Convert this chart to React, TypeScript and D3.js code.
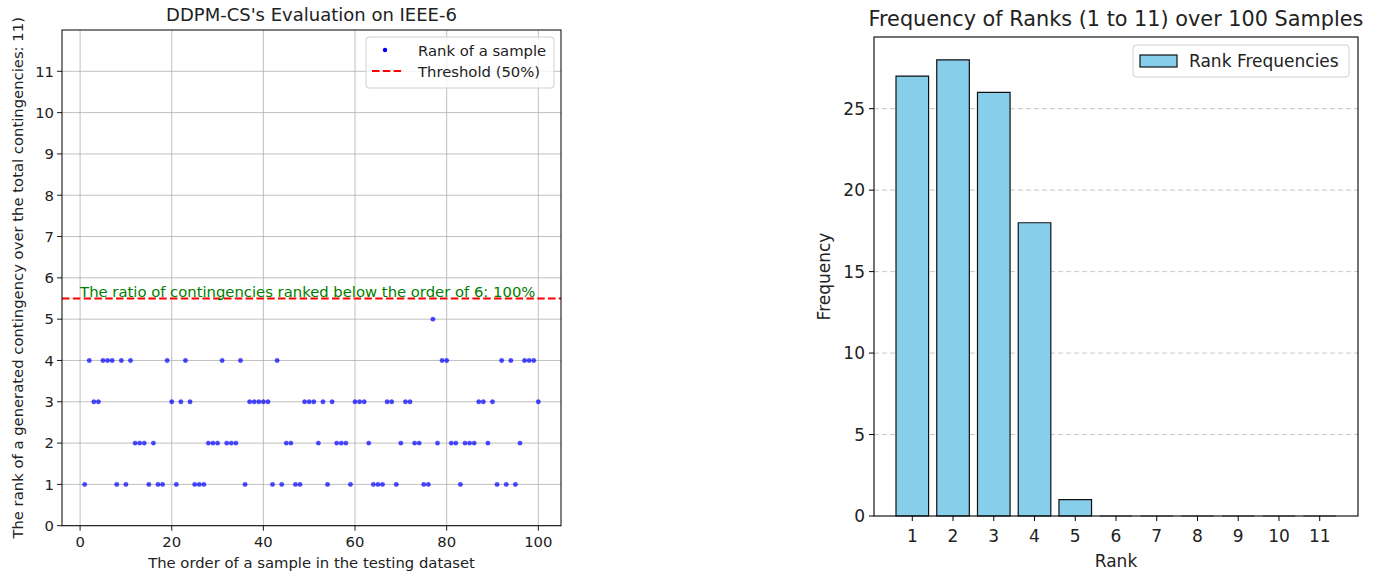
import * as d3 from 'd3';
import React, { useRef, useEffect } from 'react';

// rank of each sample, sample order 1..100
const sampleRanks = [
  1, 4, 3, 3, 4, 4, 4, 1, 4, 1,
  4, 2, 2, 2, 1, 2, 1, 1, 4, 3,
  1, 3, 4, 3, 1, 1, 1, 2, 2, 2,
  4, 2, 2, 2, 4, 1, 3, 3, 3, 3,
  3, 1, 4, 1, 2, 2, 1, 1, 3, 3,
  3, 2, 3, 1, 3, 2, 2, 2, 1, 3,
  3, 3, 2, 1, 1, 1, 3, 3, 1, 2,
  3, 3, 2, 2, 1, 1, 5, 2, 4, 4,
  2, 2, 1, 2, 2, 2, 3, 3, 2, 3,
  1, 4, 1, 4, 1, 2, 4, 4, 4, 3
];
const sampleOrder = sampleRanks.map((_, i) => i + 1);
const rankTicks = [0, 1, 2, 3, 4, 5, 6, 7, 8, 9, 10, 11];
const orderTicks = [0, 20, 40, 60, 80, 100];
const threshold = 5.5;

const rankCategories = [1, 2, 3, 4, 5, 6, 7, 8, 9, 10, 11];
const rankFrequencies = [27, 28, 26, 18, 1, 0, 0, 0, 0, 0, 0];
const freqTicks = [0, 5, 10, 15, 20, 25];

const FONT = "'DejaVu Sans', sans-serif";

function App() {
  const ref = useRef<SVGSVGElement>(null);

  useEffect(() => {
    const svg = d3.select(ref.current);
    svg.selectAll('*').remove();
    drawScatter(svg);
    drawHist(svg);
  }, []);

  const drawScatter = (svg: any) => {
    const left = 62, right = 561, top = 30, bottom = 525.7;
    const fs = 14.8;
    const x = d3.scaleLinear().domain([-3.95, 104.95]).range([left, right]);
    const y = d3.scaleLinear().domain([0, 12]).range([bottom, top]);
    const g = svg.append('g').attr('font-family', FONT);

    // grid
    g.selectAll('.vg').data(orderTicks).enter().append('line')
      .attr('x1', (d: number) => x(d)).attr('x2', (d: number) => x(d))
      .attr('y1', top).attr('y2', bottom)
      .attr('stroke', '#b0b0b0').attr('stroke-width', 0.8);
    g.selectAll('.hg').data(rankTicks).enter().append('line')
      .attr('x1', left).attr('x2', right)
      .attr('y1', (d: number) => y(d)).attr('y2', (d: number) => y(d))
      .attr('stroke', '#b0b0b0').attr('stroke-width', 0.8);

    // points
    g.selectAll('.pt').data(sampleOrder).enter().append('circle')
      .attr('cx', (d: number) => x(d))
      .attr('cy', (d: number, i: number) => y(sampleRanks[i]))
      .attr('r', 2.2)
      .attr('fill', '#0000ff').attr('fill-opacity', 0.7)
      .attr('stroke', '#0000ff').attr('stroke-opacity', 0.35).attr('stroke-width', 0.8);

    // threshold
    g.append('line')
      .attr('x1', left).attr('x2', right)
      .attr('y1', y(threshold)).attr('y2', y(threshold))
      .attr('stroke', 'red').attr('stroke-width', 2)
      .attr('stroke-dasharray', '7.5,3.3');

    g.append('text')
      .attr('x', x(0)).attr('y', y(threshold) - 1.5)
      .attr('fill', 'green').attr('font-size', fs)
      .text('The ratio of contingencies ranked below the order of 6: 100%');

    // frame
    g.append('rect')
      .attr('x', left).attr('y', top)
      .attr('width', right - left).attr('height', bottom - top)
      .attr('fill', 'none').attr('stroke', 'black').attr('stroke-width', 1);

    // x axis
    const xt = g.selectAll('.xt').data(orderTicks).enter().append('g');
    xt.append('line')
      .attr('x1', (d: number) => x(d)).attr('x2', (d: number) => x(d))
      .attr('y1', bottom).attr('y2', bottom + 5)
      .attr('stroke', 'black').attr('stroke-width', 0.9);
    xt.append('text')
      .attr('x', (d: number) => x(d)).attr('y', bottom + 21)
      .attr('text-anchor', 'middle').attr('font-size', fs).attr('fill', '#222')
      .text((d: number) => d);

    // y axis
    const yt = g.selectAll('.yt').data(rankTicks).enter().append('g');
    yt.append('line')
      .attr('x1', left - 5).attr('x2', left)
      .attr('y1', (d: number) => y(d)).attr('y2', (d: number) => y(d))
      .attr('stroke', 'black').attr('stroke-width', 0.9);
    yt.append('text')
      .attr('x', left - 8).attr('y', (d: number) => y(d) + 5.3)
      .attr('text-anchor', 'end').attr('font-size', fs).attr('fill', '#222')
      .text((d: number) => d);

    g.append('text')
      .attr('x', (left + right) / 2).attr('y', 568)
      .attr('text-anchor', 'middle').attr('font-size', fs).attr('fill', '#222')
      .text('The order of a sample in the testing dataset');

    g.append('text')
      .attr('transform', `translate(23,${(top + bottom) / 2}) rotate(-90)`)
      .attr('text-anchor', 'middle').attr('font-size', fs).attr('fill', '#222')
      .text('The rank of a generated contingency over the total contingencies: 11)');

    g.append('text')
      .attr('x', (left + right) / 2).attr('y', 21)
      .attr('text-anchor', 'middle').attr('font-size', 18).attr('fill', '#222')
      .text("DDPM-CS's Evaluation on IEEE-6");

    // legend
    const lg = g.append('g');
    lg.append('rect')
      .attr('x', 366).attr('y', 37).attr('width', 188).attr('height', 51)
      .attr('rx', 3).attr('fill', 'white').attr('fill-opacity', 0.8)
      .attr('stroke', '#d0d0d0');
    lg.append('circle').attr('cx', 385).attr('cy', 50).attr('r', 2.2).attr('fill', '#0000ff');
    lg.append('text').attr('x', 418).attr('y', 55.5).attr('font-size', fs).attr('fill', '#222')
      .text('Rank of a sample');
    lg.append('line').attr('x1', 372).attr('x2', 402).attr('y1', 71).attr('y2', 71)
      .attr('stroke', 'red').attr('stroke-width', 2).attr('stroke-dasharray', '7.5,3.3');
    lg.append('text').attr('x', 418).attr('y', 76.5).attr('font-size', fs).attr('fill', '#222')
      .text('Threshold (50%)');
  };

  const drawHist = (svg: any) => {
    const left = 874, right = 1358, top = 37, bottom = 516;
    const fs = 17;
    const x = d3.scaleLinear().domain([0.06, 11.94]).range([left, right]);
    const y = d3.scaleLinear().domain([0, 29.4]).range([bottom, top]);
    const g = svg.append('g').attr('font-family', FONT);

    g.selectAll('.hg').data(freqTicks.slice(1)).enter().append('line')
      .attr('x1', left).attr('x2', right)
      .attr('y1', (d: number) => y(d)).attr('y2', (d: number) => y(d))
      .attr('stroke', '#b0b0b0').attr('stroke-opacity', 0.7).attr('stroke-width', 1)
      .attr('stroke-dasharray', '5,3');

    g.selectAll('.bar').data(rankCategories).enter().append('path')
      .attr('d', (d: number, i: number) => {
        const p = d3.path();
        const x0 = x(d - 0.4), x1 = x(d + 0.4), y0 = y(0), y1 = y(rankFrequencies[i]);
        p.moveTo(x0, y0); p.lineTo(x1, y0); p.lineTo(x1, y1); p.lineTo(x0, y1); p.closePath();
        return p.toString();
      })
      .attr('fill', '#87ceeb').attr('stroke', (d: number, i: number) => rankFrequencies[i] > 0 ? '#111' : '#555')
      .attr('stroke-width', 1.2);

    g.append('rect')
      .attr('x', left).attr('y', top)
      .attr('width', right - left).attr('height', bottom - top)
      .attr('fill', 'none').attr('stroke', 'black').attr('stroke-width', 1.1);

    const xt = g.selectAll('.xt').data(rankCategories).enter().append('g');
    xt.append('line')
      .attr('x1', (d: number) => x(d)).attr('x2', (d: number) => x(d))
      .attr('y1', bottom).attr('y2', bottom + 5)
      .attr('stroke', 'black').attr('stroke-width', 1);
    xt.append('text')
      .attr('x', (d: number) => x(d)).attr('y', bottom + 26)
      .attr('text-anchor', 'middle').attr('font-size', fs).attr('fill', '#222')
      .text((d: number) => d);

    const yt = g.selectAll('.yt').data(freqTicks).enter().append('g');
    yt.append('line')
      .attr('x1', left - 5).attr('x2', left)
      .attr('y1', (d: number) => y(d)).attr('y2', (d: number) => y(d))
      .attr('stroke', 'black').attr('stroke-width', 1);
    yt.append('text')
      .attr('x', left - 9).attr('y', (d: number) => y(d) + 6)
      .attr('text-anchor', 'end').attr('font-size', fs).attr('fill', '#222')
      .text((d: number) => d);

    g.append('text')
      .attr('x', (left + right) / 2).attr('y', 567)
      .attr('text-anchor', 'middle').attr('font-size', fs).attr('fill', '#222')
      .text('Rank');

    g.append('text')
      .attr('transform', `translate(830,${(top + bottom) / 2}) rotate(-90)`)
      .attr('text-anchor', 'middle').attr('font-size', fs).attr('fill', '#222')
      .text('Frequency');

    g.append('text')
      .attr('x', (left + right) / 2).attr('y', 26)
      .attr('text-anchor', 'middle').attr('font-size', 20.8).attr('fill', '#222')
      .text('Frequency of Ranks (1 to 11) over 100 Samples');

    const lg = g.append('g');
    lg.append('rect')
      .attr('x', 1133).attr('y', 45).attr('width', 216).attr('height', 32)
      .attr('rx', 3).attr('fill', 'white').attr('fill-opacity', 0.8)
      .attr('stroke', '#d0d0d0');
    lg.append('rect')
      .attr('x', 1140).attr('y', 55).attr('width', 37).attr('height', 12)
      .attr('fill', '#87ceeb').attr('stroke', '#111').attr('stroke-width', 1.2);
    lg.append('text').attr('x', 1189).attr('y', 67).attr('font-size', fs).attr('fill', '#222')
      .text('Rank Frequencies');
  };

  return (
    <svg ref={ref} width={1376} height={574}
      style={{ position: 'absolute', left: 0, top: 0, background: 'white' }}>
    </svg>
  );
}

export default App;
